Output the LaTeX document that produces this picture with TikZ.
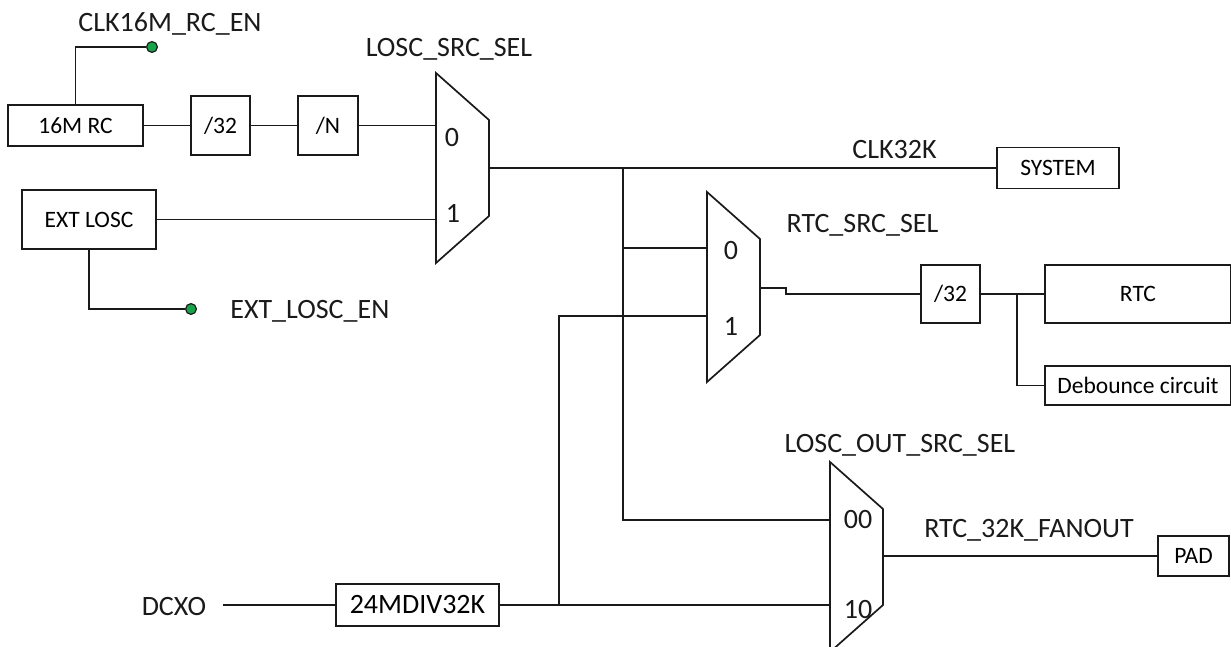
\documentclass[tikz,border=0pt]{standalone}
\usepackage{fontspec}
\setmainfont{Carlito}
\usepackage{xcolor}
\usepackage{tikz}
\usetikzlibrary{positioning, calc}
\definecolor{ink}{HTML}{1A1A1A}
\definecolor{pingreen}{HTML}{16A34A}
\tikzset{
  wire/.style={draw=ink, line width=0.85pt},
  blk/.style={draw=ink, line width=0.85pt, fill=white, align=center, inner sep=0pt, font=\fontsize{11.75}{14}\selectfont},
  lbl/.style={text=ink, inner sep=0pt, anchor=base, font=\fontsize{14}{16}\selectfont},
  enpin/.style={circle, draw=ink, line width=0.6pt, fill=pingreen, minimum size=5.4pt, inner sep=0pt},
}
% mux: name, left x, top y, input 0 y, input 1 y, output y
\newcommand{\muxblock}[6]{%
  \draw[wire] (#2,#3) -- ++(53,47) -- ++(0,96) -- ++(-53,47) -- cycle;
  \coordinate (#1-in0) at (#2,#4);
  \coordinate (#1-in1) at (#2,#5);
  \coordinate (#1-out) at (#2+53,#6);
}
\begin{document}
\begin{tikzpicture}[x=0.5pt, y=-0.5pt]
  \useasboundingbox (0,0) rectangle (1231,647);

  % 16M RC chain into the first mux
  \node[blk, minimum width=67.5pt, minimum height=20.5pt] (rc16) at (75.5,125.5) {16M RC};
  \node[blk, minimum width=29.5pt, minimum height=29.5pt] (div32a) at (220.5,125.5) {/32};
  \node[blk, minimum width=30pt, minimum height=29.5pt] (divn) at (328,125.5) {/N};
  \node[blk, minimum width=67pt, minimum height=29.5pt] (extlosc) at (89,219.5) {EXT LOSC};

  % enable pins
  \node[enpin] (rcen) at (152,47) {};
  \node[enpin] (extenpin) at (191,309) {};
  \node[lbl] (rcenlbl) at (170,32) {CLK16M\_RC\_EN};
  \node[lbl, anchor=base west] (extenlbl) at (230,318) {EXT\_LOSC\_EN};
  \draw[wire] (rc16.north) |- (rcen);
  \draw[wire] (extlosc.south) |- (extenpin);

  % multiplexers
  \muxblock{msrc}{436}{73}{125.5}{219.5}{168}
  \muxblock{mrtc}{707}{192}{248}{316}{288}
  \muxblock{mout}{830}{462}{520}{605}{556}
  \node[lbl] (msrclbl) at (449,57) {LOSC\_SRC\_SEL};
  \node[lbl] (mrtclbl) at (862.5,232) {RTC\_SRC\_SEL};
  \node[lbl] (moutlbl) at (900,452) {LOSC\_OUT\_SRC\_SEL};
  \node[lbl] (msrc0) at (452,147) {0};
  \node[lbl] (msrc1) at (453,222) {1};
  \node[lbl] (mrtc0) at (731,259) {0};
  \node[lbl] (mrtc1) at (731,335) {1};
  \node[lbl] (mout0) at (858,528) {00};
  \node[lbl] (mout1) at (858,618) {10};

  % right side blocks
  \node[blk, minimum width=61pt, minimum height=20.5pt] (system) at (1058,168) {SYSTEM};
  \node[blk, minimum width=29.5pt, minimum height=29pt] (div32b) at (950.5,294) {/32};
  \node[blk, minimum width=93pt, minimum height=29pt] (rtc) at (1138,294) {RTC};
  \node[blk, minimum width=93pt, minimum height=19.5pt] (debounce) at (1138,385.5) {Debounce circuit};
  \node[blk, minimum width=35.5pt, minimum height=20pt] (pad) at (1193.5,556) {PAD};
  \node[lbl] (clklbl) at (894.5,158) {CLK32K};
  \node[lbl] (fanlbl) at (1029,537) {RTC\_32K\_FANOUT};

  % DCXO source
  \node[lbl, anchor=center, inner xsep=8pt] (dcxo) at (174,607) {DCXO};
  \node[blk, minimum width=81.5pt, minimum height=21pt, font=\fontsize{14}{16}\selectfont] (div24m) at (417.5,605) {24MDIV32K};

  % branch points
  \coordinate (j1) at (623,168);
  \coordinate (j2) at (559,605);
  \coordinate (j3) at (1017,294);
  \coordinate (jog) at (786,294);

  \draw[wire] (rc16.east) -- (div32a.west);
  \draw[wire] (div32a.east) -- (divn.west);
  \draw[wire] (divn.east) -- (msrc-in0);
  \draw[wire] (extlosc.east) -- (msrc-in1);
  \draw[wire] (msrc-out) -- (system.west);
  \draw[wire] (j1) |- (mout-in0);
  \draw[wire] (j1 |- mrtc-in0) -- (mrtc-in0);
  \draw[wire] (j2) |- (mrtc-in1);
  \draw[wire] (dcxo.east |- div24m.west) -- (div24m.west);
  \draw[wire] (div24m.east) -- (mout-in1);
  \draw[wire] (mrtc-out) -| (jog) -- (div32b.west);
  \draw[wire] (div32b.east) -- (rtc.west);
  \draw[wire] (j3) |- (debounce.west);
  \draw[wire] (mout-out) -- (pad.west);
\end{tikzpicture}
\end{document}
